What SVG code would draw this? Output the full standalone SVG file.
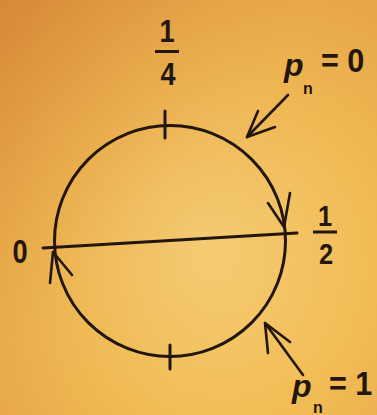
<svg xmlns="http://www.w3.org/2000/svg" width="377" height="415" viewBox="0 0 377 415">
  <defs>
    <radialGradient id="paper" cx="0.55" cy="0.6" r="0.75">
      <stop offset="0" stop-color="#F7D27C"/>
      <stop offset="0.55" stop-color="#F2BE58"/>
      <stop offset="1" stop-color="#E9A848"/>
    </radialGradient>
    <linearGradient id="shade" x1="0" y1="0" x2="1" y2="1">
      <stop offset="0" stop-color="#C8702A" stop-opacity="0.55"/>
      <stop offset="0.45" stop-color="#D88A35" stop-opacity="0.15"/>
      <stop offset="1" stop-color="#F5C040" stop-opacity="0"/>
    </linearGradient>
    <style>
      .ink { fill: none; stroke: #22160e; stroke-width: 3; stroke-linecap: round; stroke-linejoin: round; }
      .thin { fill: none; stroke: #22160e; stroke-width: 2.6; stroke-linecap: round; stroke-linejoin: round; }
      .lbl { font-family: "Liberation Sans", Arial, sans-serif; font-weight: bold; fill: #22160e; }
      .it { font-family: "Liberation Sans", Arial, sans-serif; font-style: italic; font-weight: bold; fill: #22160e; }
    </style>
  </defs>

  <rect x="0" y="0" width="377" height="415" fill="url(#paper)"/>
  <rect x="0" y="0" width="377" height="415" fill="url(#shade)"/>

  <g id="circle">
    <circle cx="170" cy="241" r="115.5" class="ink"/>
    <line x1="165" y1="111" x2="165" y2="138" class="ink"/>
    <line x1="170" y1="345" x2="170" y2="369" class="ink"/>
    <polyline points="268,203 284,227 290,193" class="thin"/>
    <polyline points="50,283 53,252 72,275" class="thin"/>
  </g>

  <g id="diameter">
    <line x1="43" y1="248" x2="297" y2="233" class="ink"/>
  </g>

  <g id="label-quarter">
    <text transform="translate(167,42) scale(0.85,1)" class="lbl" font-size="32" text-anchor="middle">1</text>
    <line x1="155" y1="51.5" x2="179" y2="51.5" stroke="#22160e" stroke-width="3"/>
    <text transform="translate(168,85) scale(0.85,1)" class="lbl" font-size="32" text-anchor="middle">4</text>
  </g>

  <g id="label-half">
    <text transform="translate(325,226) scale(0.85,1)" class="lbl" font-size="30" text-anchor="middle">1</text>
    <line x1="313" y1="232" x2="337" y2="232" stroke="#22160e" stroke-width="3"/>
    <text transform="translate(326,264) scale(0.85,1)" class="lbl" font-size="30" text-anchor="middle">2</text>
  </g>

  <g id="label-zero">
    <text transform="translate(20,263) scale(0.8,1)" class="lbl" font-size="34" text-anchor="middle">0</text>
  </g>

  <g id="label-p0">
    <text x="284" y="76" class="it" font-size="32">p</text>
    <text x="303" y="94" class="lbl" font-size="16">n</text>
    <text transform="translate(321,72) scale(0.9,1)" class="lbl" font-size="34">= 0</text>
  </g>

  <g id="label-p1">
    <text x="292" y="397" class="it" font-size="32">p</text>
    <text x="313" y="413" class="lbl" font-size="16">n</text>
    <text transform="translate(329,395) scale(0.9,1)" class="lbl" font-size="34">= 1</text>
  </g>

  <g id="connectors">
    <line x1="288" y1="95" x2="247" y2="137" class="thin"/>
    <polyline points="258,111 247,137 275,127" class="thin"/>
    <line x1="303" y1="375" x2="265" y2="323" class="thin"/>
    <polyline points="268,353 265,323 290,342" class="thin"/>
  </g>
</svg>
